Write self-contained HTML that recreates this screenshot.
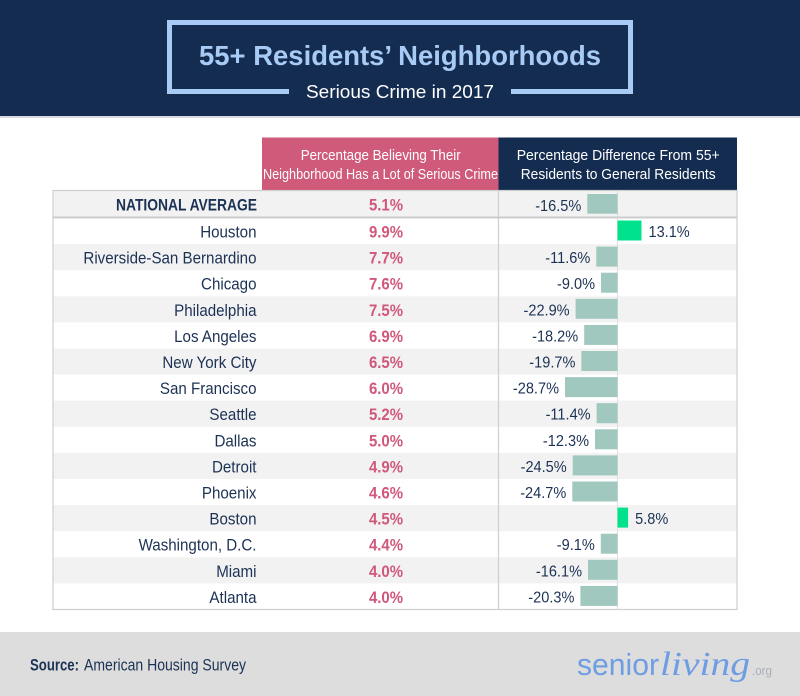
<!DOCTYPE html>
<html><head><meta charset="utf-8"><style>
html,body{margin:0;padding:0;background:#fff;}
svg{display:block;}
text{font-family:"Liberation Sans",Arial,sans-serif;}
.lb{font-size:17px;fill:#1c3254;}
.vl{font-size:17px;font-weight:bold;fill:#d0587a;}
.bl{font-size:16px;fill:#1c3254;}
</style></head><body>
<svg width="800" height="696" viewBox="0 0 800 696" xmlns="http://www.w3.org/2000/svg">
<!-- header -->
<rect x="0" y="0" width="800" height="116" fill="#132c50"/>
<rect x="0" y="116" width="800" height="2" fill="#d6dbe1"/>
<path d="M289 91.5 H169.5 V22.5 H630.5 V91.5 H511" fill="none" stroke="#a8cbf6" stroke-width="5"/>
<text x="199" y="65" font-size="28" font-weight="bold" fill="#a8cbf6" textLength="402" lengthAdjust="spacingAndGlyphs">55+ Residents’ Neighborhoods</text>
<text x="306" y="98" font-size="18" fill="#ffffff" textLength="188" lengthAdjust="spacingAndGlyphs">Serious Crime in 2017</text>

<!-- column headers -->
<rect x="262" y="137.5" width="236.5" height="53" fill="#cf5a7a"/>
<rect x="498.5" y="137.5" width="238.5" height="53" fill="#132c50"/>
<text x="300.7" y="160" font-size="14.5" fill="#fff" textLength="160" lengthAdjust="spacingAndGlyphs">Percentage Believing Their</text>
<text x="263" y="179" font-size="14.5" fill="#fff" textLength="235" lengthAdjust="spacingAndGlyphs">Neighborhood Has a Lot of Serious Crime</text>
<text x="516.7" y="160" font-size="14.5" fill="#fff" textLength="203" lengthAdjust="spacingAndGlyphs">Percentage Difference From 55+</text>
<text x="520.7" y="179" font-size="14.5" fill="#fff" textLength="195" lengthAdjust="spacingAndGlyphs">Residents to General Residents</text>

<!-- row backgrounds -->
<rect x="53" y="190.5" width="684" height="27" fill="#f2f2f2"/>
<rect x="53" y="244.1" width="684" height="26.1" fill="#f2f2f2"/>
<rect x="53" y="296.3" width="684" height="26.1" fill="#f2f2f2"/>
<rect x="53" y="348.5" width="684" height="26.1" fill="#f2f2f2"/>
<rect x="53" y="400.7" width="684" height="26.1" fill="#f2f2f2"/>
<rect x="53" y="452.9" width="684" height="26.1" fill="#f2f2f2"/>
<rect x="53" y="505.1" width="684" height="26.1" fill="#f2f2f2"/>
<rect x="53" y="557.3" width="684" height="26.1" fill="#f2f2f2"/>

<!-- grid lines -->
<line x1="617.5" y1="190.5" x2="617.5" y2="609.5" stroke="#dedede" stroke-width="1"/>
<line x1="498.5" y1="190.5" x2="498.5" y2="609.5" stroke="#cfcfcf" stroke-width="1.2"/>
<rect x="53" y="190.5" width="684" height="419" fill="none" stroke="#cfcfcf" stroke-width="1.2"/>
<rect x="53" y="216.5" width="684" height="2" fill="#cccccc"/>

<!-- bars -->
<g fill="#a0c8bf">
<rect x="587.3" y="194" width="30.2" height="19.7"/>
<rect x="596.3" y="246.6" width="21.2" height="20"/>
<rect x="601.0" y="272.7" width="16.5" height="20"/>
<rect x="575.6" y="298.8" width="41.9" height="20"/>
<rect x="584.2" y="324.9" width="33.3" height="20"/>
<rect x="581.4" y="351.0" width="36.1" height="20"/>
<rect x="565.0" y="377.1" width="52.5" height="20"/>
<rect x="596.6" y="403.2" width="20.9" height="20"/>
<rect x="595.0" y="429.3" width="22.5" height="20"/>
<rect x="572.7" y="455.4" width="44.8" height="20"/>
<rect x="572.3" y="481.5" width="45.2" height="20"/>
<rect x="600.8" y="533.7" width="16.7" height="20"/>
<rect x="588.0" y="559.8" width="29.5" height="20"/>
<rect x="580.4" y="585.9" width="37.1" height="20"/>
</g>
<g fill="#00e38c">
<rect x="617.5" y="220.5" width="24" height="20"/>
<rect x="617.5" y="507.6" width="10.6" height="20"/>
</g>

<!-- national average row -->
<text x="116" y="210.7" font-size="17" font-weight="bold" fill="#1c3254" textLength="141" lengthAdjust="spacingAndGlyphs">NATIONAL AVERAGE</text>
<g transform="translate(386,210.7) scale(0.88,1)"><text class="vl" text-anchor="middle">5.1%</text></g>
<g transform="translate(581.3,211) scale(0.91,1)"><text class="bl" text-anchor="end">-16.5%</text></g>

<!-- city labels -->
<g transform="translate(256.5,237.5) scale(0.89,1)"><text class="lb" text-anchor="end">Houston</text></g>
<g transform="translate(256.5,263.6) scale(0.89,1)"><text class="lb" text-anchor="end">Riverside-San Bernardino</text></g>
<g transform="translate(256.5,289.7) scale(0.89,1)"><text class="lb" text-anchor="end">Chicago</text></g>
<g transform="translate(256.5,315.8) scale(0.89,1)"><text class="lb" text-anchor="end">Philadelphia</text></g>
<g transform="translate(256.5,341.9) scale(0.89,1)"><text class="lb" text-anchor="end">Los Angeles</text></g>
<g transform="translate(256.5,368.0) scale(0.89,1)"><text class="lb" text-anchor="end">New York City</text></g>
<g transform="translate(256.5,394.1) scale(0.89,1)"><text class="lb" text-anchor="end">San Francisco</text></g>
<g transform="translate(256.5,420.2) scale(0.89,1)"><text class="lb" text-anchor="end">Seattle</text></g>
<g transform="translate(256.5,446.3) scale(0.89,1)"><text class="lb" text-anchor="end">Dallas</text></g>
<g transform="translate(256.5,472.4) scale(0.89,1)"><text class="lb" text-anchor="end">Detroit</text></g>
<g transform="translate(256.5,498.5) scale(0.89,1)"><text class="lb" text-anchor="end">Phoenix</text></g>
<g transform="translate(256.5,524.6) scale(0.89,1)"><text class="lb" text-anchor="end">Boston</text></g>
<g transform="translate(256.5,550.7) scale(0.89,1)"><text class="lb" text-anchor="end">Washington, D.C.</text></g>
<g transform="translate(256.5,576.8) scale(0.89,1)"><text class="lb" text-anchor="end">Miami</text></g>
<g transform="translate(256.5,602.9) scale(0.89,1)"><text class="lb" text-anchor="end">Atlanta</text></g>

<!-- values -->
<g transform="translate(386,237.5) scale(0.88,1)"><text class="vl" text-anchor="middle">9.9%</text></g>
<g transform="translate(386,263.6) scale(0.88,1)"><text class="vl" text-anchor="middle">7.7%</text></g>
<g transform="translate(386,289.7) scale(0.88,1)"><text class="vl" text-anchor="middle">7.6%</text></g>
<g transform="translate(386,315.8) scale(0.88,1)"><text class="vl" text-anchor="middle">7.5%</text></g>
<g transform="translate(386,341.9) scale(0.88,1)"><text class="vl" text-anchor="middle">6.9%</text></g>
<g transform="translate(386,368.0) scale(0.88,1)"><text class="vl" text-anchor="middle">6.5%</text></g>
<g transform="translate(386,394.1) scale(0.88,1)"><text class="vl" text-anchor="middle">6.0%</text></g>
<g transform="translate(386,420.2) scale(0.88,1)"><text class="vl" text-anchor="middle">5.2%</text></g>
<g transform="translate(386,446.3) scale(0.88,1)"><text class="vl" text-anchor="middle">5.0%</text></g>
<g transform="translate(386,472.4) scale(0.88,1)"><text class="vl" text-anchor="middle">4.9%</text></g>
<g transform="translate(386,498.5) scale(0.88,1)"><text class="vl" text-anchor="middle">4.6%</text></g>
<g transform="translate(386,524.6) scale(0.88,1)"><text class="vl" text-anchor="middle">4.5%</text></g>
<g transform="translate(386,550.7) scale(0.88,1)"><text class="vl" text-anchor="middle">4.4%</text></g>
<g transform="translate(386,576.8) scale(0.88,1)"><text class="vl" text-anchor="middle">4.0%</text></g>
<g transform="translate(386,602.9) scale(0.88,1)"><text class="vl" text-anchor="middle">4.0%</text></g>

<!-- bar labels -->
<g transform="translate(648.5,237) scale(0.91,1)"><text class="bl">13.1%</text></g>
<g transform="translate(590.3,263.1) scale(0.91,1)"><text class="bl" text-anchor="end">-11.6%</text></g>
<g transform="translate(595,289.2) scale(0.91,1)"><text class="bl" text-anchor="end">-9.0%</text></g>
<g transform="translate(569.6,315.3) scale(0.91,1)"><text class="bl" text-anchor="end">-22.9%</text></g>
<g transform="translate(578.2,341.4) scale(0.91,1)"><text class="bl" text-anchor="end">-18.2%</text></g>
<g transform="translate(575.4,367.5) scale(0.91,1)"><text class="bl" text-anchor="end">-19.7%</text></g>
<g transform="translate(559,393.6) scale(0.91,1)"><text class="bl" text-anchor="end">-28.7%</text></g>
<g transform="translate(590.6,419.7) scale(0.91,1)"><text class="bl" text-anchor="end">-11.4%</text></g>
<g transform="translate(589,445.8) scale(0.91,1)"><text class="bl" text-anchor="end">-12.3%</text></g>
<g transform="translate(566.7,471.9) scale(0.91,1)"><text class="bl" text-anchor="end">-24.5%</text></g>
<g transform="translate(566.3,498) scale(0.91,1)"><text class="bl" text-anchor="end">-24.7%</text></g>
<g transform="translate(635.1,524.1) scale(0.91,1)"><text class="bl">5.8%</text></g>
<g transform="translate(594.8,550.2) scale(0.91,1)"><text class="bl" text-anchor="end">-9.1%</text></g>
<g transform="translate(582,576.3) scale(0.91,1)"><text class="bl" text-anchor="end">-16.1%</text></g>
<g transform="translate(574.4,602.4) scale(0.91,1)"><text class="bl" text-anchor="end">-20.3%</text></g>

<!-- footer -->
<rect x="0" y="632" width="800" height="64" fill="#dddddd"/>
<text x="30" y="670.7" font-size="17" font-weight="bold" fill="#1c3254" textLength="49" lengthAdjust="spacingAndGlyphs">Source:</text>
<text x="84" y="670.7" font-size="17" fill="#1c3254" textLength="162" lengthAdjust="spacingAndGlyphs">American Housing Survey</text>
<text x="577" y="675" font-size="31" fill="#6e9de2" textLength="82" lengthAdjust="spacingAndGlyphs">senior</text>
<text x="660" y="675" font-size="34" font-style="italic" fill="#6e9de2" style="font-family:'Liberation Serif',serif" textLength="90" lengthAdjust="spacingAndGlyphs">living</text>
<text x="752" y="675" font-size="13" fill="#a9b0b8" textLength="20" lengthAdjust="spacingAndGlyphs">.org</text>
</svg>
</body></html>
